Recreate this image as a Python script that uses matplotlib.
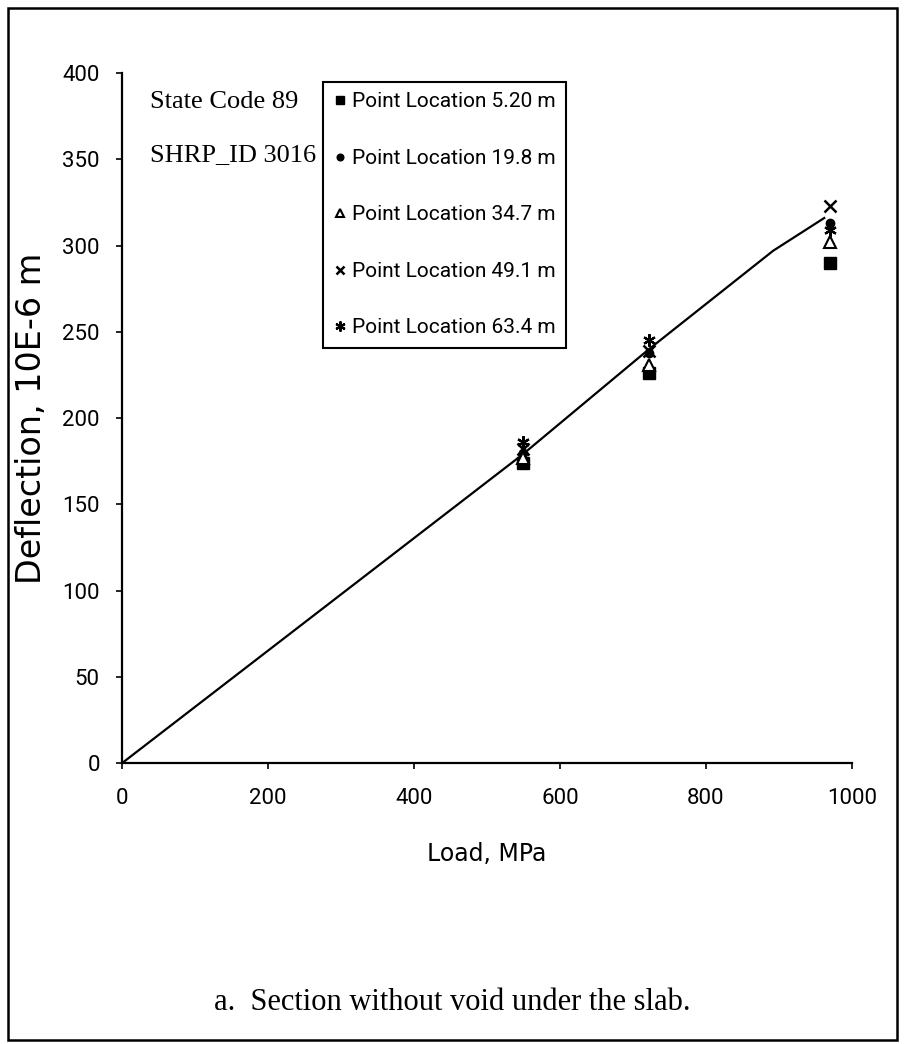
import matplotlib
matplotlib.use("Agg")
import matplotlib.pyplot as plt
from matplotlib.patches import Rectangle

# measured points (load in MPa, deflection in 10E-6 m)
loads = [549, 722, 970]
p_5_20 = [174, 226, 290]
p_19_8 = [180, 238, 313]
p_34_7 = [177, 231, 302]
p_49_1 = [182, 239, 323]
p_63_4 = [186, 245, 309]

# fitted curve
fit_load = [0, 549, 722, 892, 962]
fit_defl = [0, 179, 240, 297, 316]

xticks = [0, 200, 400, 600, 800, 1000]
yticks = [0, 50, 100, 150, 200, 250, 300, 350, 400]

narrow = ["Roboto", "DejaVu Sans"]
serif = ["Liberation Serif", "DejaVu Serif"]

fig = plt.figure(figsize=(9.05, 10.44), dpi=100)
ax = fig.add_axes([0.1348, 0.269, 0.8066, 0.661])

ax.plot(fit_load, fit_defl, color="black", lw=1.6, zorder=2)

series = [
    (p_5_20, "Point Location 5.20 m", dict(marker="s", mfc="black", mec="black", ms=8)),
    (p_19_8, "Point Location 19.8 m", dict(marker="o", mfc="black", mec="black", ms=6)),
    (p_34_7, "Point Location 34.7 m", dict(marker="^", mfc="white", mec="black", ms=8, mew=1.5)),
    (p_49_1, "Point Location 49.1 m", dict(marker="x", mfc="black", mec="black", ms=8, mew=1.8)),
    (p_63_4, "Point Location 63.4 m", dict(marker=(6, 2, 0), mfc="black", mec="black", ms=9, mew=1.6)),
]
for vals, lab, st in series:
    ax.plot(loads, vals, ls="none", label=lab, zorder=3, **st)

ax.set_xlim(0, 1000)
ax.set_ylim(0, 400)
ax.set_xticks(xticks)
ax.set_yticks(yticks)
for s in ["top", "right"]:
    ax.spines[s].set_visible(False)
for s in ["left", "bottom"]:
    ax.spines[s].set_linewidth(1.6)
ax.tick_params(direction="out", length=4, width=1.2, labelsize=16, colors="black")
ax.tick_params(axis="x", pad=14)
ax.tick_params(axis="y", pad=12)
for t in ax.get_xticklabels() + ax.get_yticklabels():
    t.set_family(narrow)

ax.set_xlabel("Load, MPa", fontsize=17, family="DejaVu Sans", labelpad=24)
ax.set_ylabel("Deflection, 10E-6 m", fontsize=24, family="DejaVu Sans", labelpad=10)

ax.text(150 / 905, 1 - 102 / 1044, "State Code 89", transform=fig.transFigure,
        fontsize=19, family=serif, va="center", ha="left")
ax.text(150 / 905, 1 - 155 / 1044, "SHRP_ID 3016", transform=fig.transFigure,
        fontsize=19, family=serif, va="center", ha="left")

leg = ax.legend(loc="upper left", bbox_to_anchor=(323 / 905, 1 - 82 / 1044),
                bbox_transform=fig.transFigure, borderaxespad=0, frameon=True,
                fancybox=False, edgecolor="black", framealpha=1,
                prop={"family": narrow, "size": 15}, handlelength=0.6,
                handletextpad=0.3, labelspacing=1.8, borderpad=0.5,
                markerscale=0.8)
leg.get_frame().set_linewidth(1.5)

fig.text(0.5, 1 - 1003 / 1044, "a.  Section without void under the slab.",
         fontsize=22, family=serif, ha="center", va="center")

# border round the whole figure
fig.patches.append(Rectangle((8 / 905, 4 / 1044), 889 / 905, 1032 / 1044,
                             transform=fig.transFigure, fill=False,
                             edgecolor="black", lw=1.8))

fig.savefig("out.png", dpi=100)
